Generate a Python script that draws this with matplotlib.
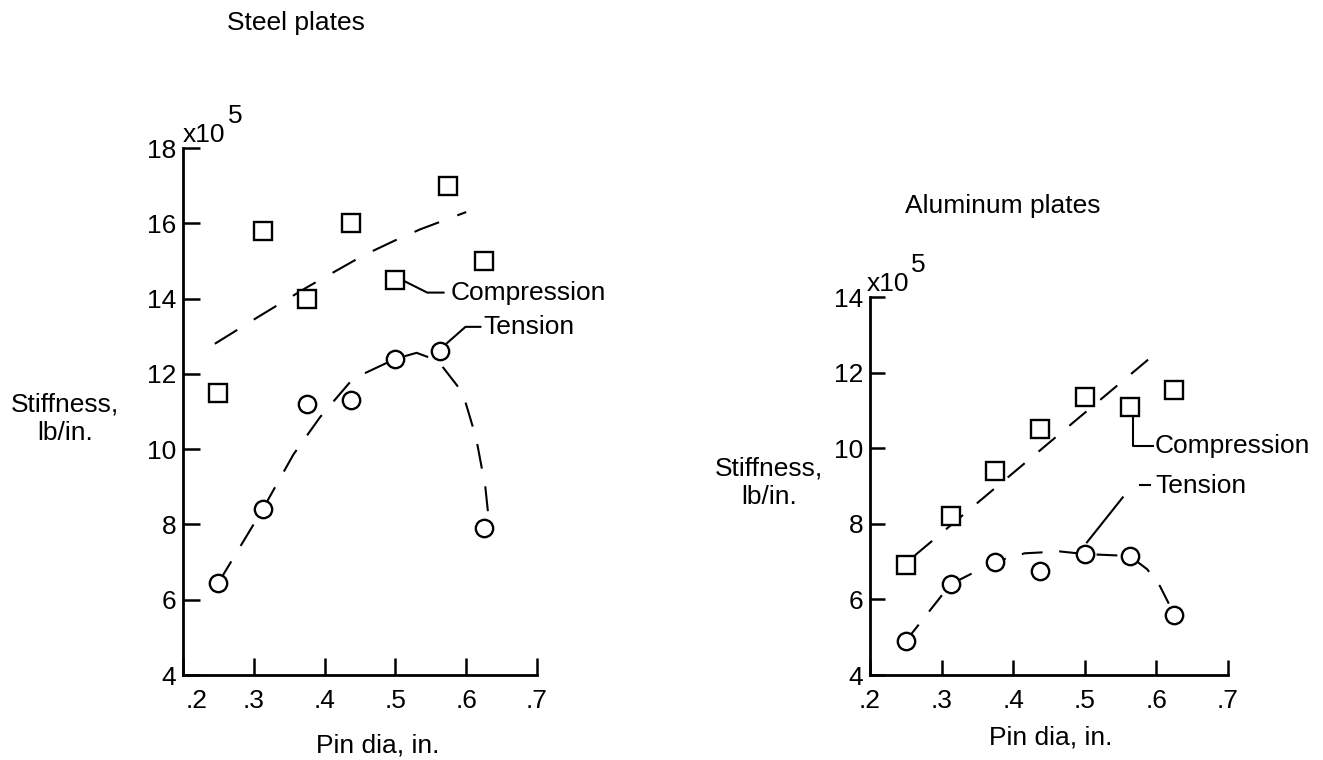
import matplotlib.pyplot as plt
import matplotlib.transforms as mtransforms

plt.rcParams['font.family'] = ['Liberation Sans', 'DejaVu Sans']
plt.rcParams['lines.scale_dashes'] = False

# --- steel plates: test points (stiffness in units of 1e5 lb/in.)
steel_comp_pin = [0.25, 0.3125, 0.375, 0.4375, 0.5, 0.575, 0.625]
steel_comp = [11.5, 15.8, 14.0, 16.0, 14.5, 17.0, 15.0]
steel_tens_pin = [0.25, 0.3125, 0.375, 0.4375, 0.5, 0.5625, 0.625]
steel_tens = [6.45, 8.4, 11.2, 11.3, 12.4, 12.6, 7.9]

# steel plates: faired curves
steel_comp_fit_pin = [0.245, 0.305, 0.375, 0.455, 0.5, 0.535, 0.6]
steel_comp_fit = [12.8, 13.5, 14.3, 15.15, 15.55, 15.84, 16.3]
steel_tens_fit_pin = [0.25, 0.3125, 0.356, 0.394, 0.44, 0.5, 0.53, 0.56,
                      0.595, 0.614, 0.627, 0.632]
steel_tens_fit = [6.45, 8.4, 9.86, 10.86, 11.87, 12.4, 12.56, 12.35,
                  11.5, 10.3, 9.0, 8.1]

# --- aluminum plates: test points
alum_pin = [0.25, 0.3125, 0.375, 0.4375, 0.5, 0.5625, 0.625]
alum_comp = [6.9, 8.2, 9.4, 10.5, 11.35, 11.1, 11.55]
alum_tens = [4.9, 6.4, 7.0, 6.75, 7.2, 7.15, 5.6]

# aluminum plates: faired curves
alum_comp_fit_pin = [0.263, 0.592]
alum_comp_fit = [7.17, 12.4]
alum_tens_fit_pin = [0.25, 0.3125, 0.375, 0.416, 0.465, 0.5, 0.5625,
                     0.587, 0.605, 0.625]
alum_tens_fit = [4.9, 6.4, 7.0, 7.22, 7.27, 7.2, 7.15, 6.8, 6.35, 5.6]

# leader lines for the curve labels
steel_comp_leader = ([0.511, 0.545, 0.568], [14.48, 14.16, 14.16])
steel_tens_leader = ([0.573, 0.599, 0.62], [12.82, 13.25, 13.25])
alum_comp_leader = ([0.567, 0.567, 0.595], [10.97, 10.06, 10.06])
alum_tens_leader = ([0.503, 0.553], [7.51, 8.7])
alum_tens_stub = ([0.577, 0.591], [9.02, 9.02])

pin_ticks = [0.2, 0.3, 0.4, 0.5, 0.6, 0.7]
pin_labels = ['.2', '.3', '.4', '.5', '.6', '.7']

FS = 19
LW = 1.5
MS = 12.5


def style_axes(ax, ymax, ticklen, exp_x0, exp_dx, label_xy, xlabel_xy):
    ax.set_xlim(0.2, 0.7)
    ax.set_ylim(4, ymax)
    for side in ['top', 'right']:
        ax.spines[side].set_visible(False)
    for side in ['left', 'bottom']:
        ax.spines[side].set_linewidth(2.0)
    ax.set_xticks(pin_ticks)
    ax.set_xticklabels(pin_labels)
    yt = list(range(4, ymax + 1, 2))
    ax.set_yticks(yt)
    ax.set_yticklabels([str(v) for v in yt])
    ax.tick_params(axis='both', direction='in', length=ticklen, width=1.8,
                   labelsize=FS)
    ax.tick_params(axis='x', pad=10)
    ax.tick_params(axis='y', pad=5)
    ax.set_ylabel('Stiffness,\nlb/in.', fontsize=FS, rotation=0,
                  ha='center', va='center', linespacing=1.25)
    ax.yaxis.set_label_coords(*label_xy)
    ax.set_xlabel('Pin dia, in.', fontsize=FS, ha='center', va='center')
    ax.xaxis.set_label_coords(*xlabel_xy)
    # exponent marker at the top of the y axis
    ax.annotate('x10', xy=(0, 1), xycoords='axes fraction',
                xytext=(exp_x0, 6), textcoords='offset pixels',
                ha='left', va='baseline', fontsize=FS)
    ax.annotate('5', xy=(0, 1), xycoords='axes fraction',
                xytext=(exp_dx, 25), textcoords='offset pixels',
                ha='left', va='baseline', fontsize=FS)


def draw_set(ax, xs, ys, fit_x, fit_y, marker, dashes):
    ax.plot(fit_x, fit_y, color='black', lw=LW, dashes=dashes, zorder=2)
    ax.plot(xs, ys, linestyle='none', marker=marker, ms=MS, mfc='white',
            mec='black', mew=1.7, zorder=3, clip_on=False)


def label(ax, leader, text, tx, ty):
    ax.plot(leader[0], leader[1], color='black', lw=LW, zorder=2,
            clip_on=False)
    ax.text(tx, ty, text, fontsize=FS, ha='left', va='center',
            clip_on=False)


fig = plt.figure(figsize=(13.23, 7.6), dpi=100)
ax1 = fig.add_axes([0.1383, 0.1118, 0.2676, 0.6934])
ax2 = fig.add_axes([0.6576, 0.1118, 0.2706, 0.4974])

style_axes(ax1, 18, 12, 0, 45, (-0.333, 0.486), (0.551, -0.133))
style_axes(ax2, 14, 11, -3, 41, (-0.282, 0.508), (0.506, -0.164))

# the ".2" label of the steel panel sits just right of the corner
first = ax1.xaxis.get_major_ticks()[0].label1
first.set_transform(first.get_transform() +
                    mtransforms.ScaledTranslation(0.14, 0, fig.dpi_scale_trans))

draw_set(ax1, steel_comp_pin, steel_comp, steel_comp_fit_pin, steel_comp_fit,
         's', (19, 14))
draw_set(ax1, steel_tens_pin, steel_tens, steel_tens_fit_pin, steel_tens_fit,
         'o', (18, 13))
label(ax1, steel_comp_leader, 'Compression', 0.578, 14.16)
label(ax1, steel_tens_leader, 'Tension', 0.624, 13.25)

draw_set(ax2, alum_pin, alum_comp, alum_comp_fit_pin, alum_comp_fit,
         's', (16, 13))
draw_set(ax2, alum_pin, alum_tens, alum_tens_fit_pin, alum_tens_fit,
         'o', (15, 12))
label(ax2, alum_comp_leader, 'Compression', 0.598, 10.06)
label(ax2, alum_tens_leader, 'Tension', 0.598, 9.0)
ax2.plot(alum_tens_stub[0], alum_tens_stub[1], color='black', lw=LW,
         clip_on=False)

fig.text(296 / 1323, 1 - 23 / 760, 'Steel plates', fontsize=FS,
         ha='center', va='center')
fig.text(1003 / 1323, 1 - 206 / 760, 'Aluminum plates', fontsize=FS,
         ha='center', va='center')

fig.savefig('out.png', dpi=100)
